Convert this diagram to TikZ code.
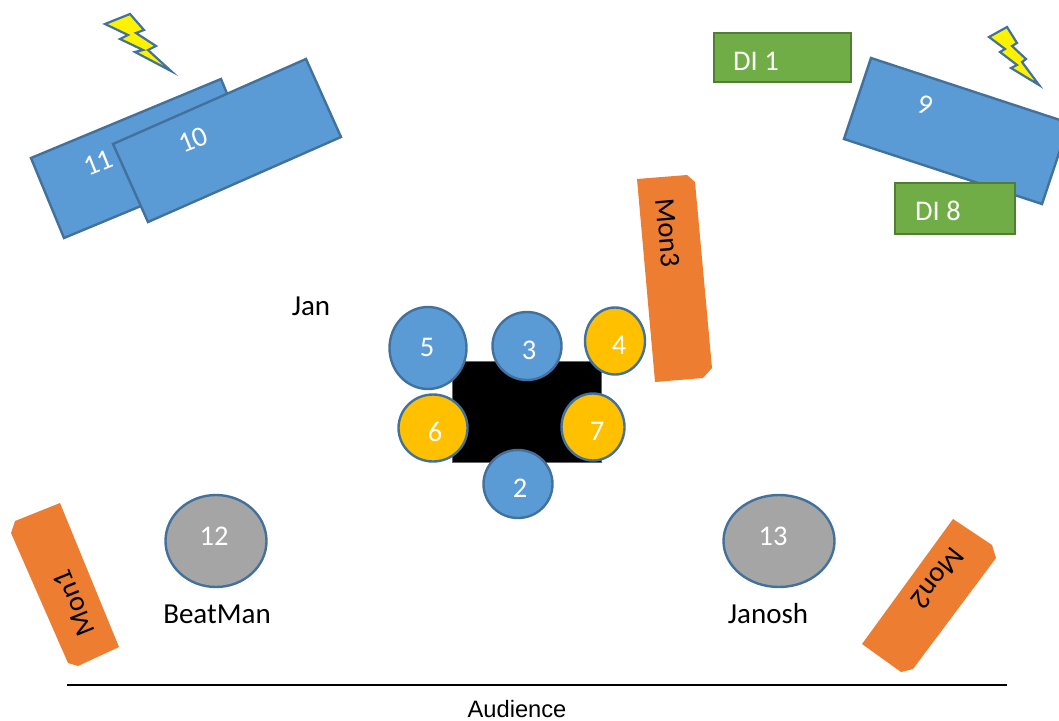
\documentclass[tikz,border=0pt]{standalone}
\usepackage{fontspec}
\setmainfont{Carlito}
\newfontfamily\arialfont{Liberation Sans}
\usetikzlibrary{shapes.geometric}
\definecolor{bluefill}{HTML}{5B9BD5}
\definecolor{blueedge}{HTML}{41719C}
\definecolor{orangefill}{HTML}{ED7D31}
\definecolor{greenfill}{HTML}{70AD47}
\definecolor{greenedge}{HTML}{507E32}
\definecolor{goldfill}{HTML}{FFC000}
\definecolor{grayfill}{HTML}{A5A5A5}
\tikzset{
  amp/.style={draw=blueedge,line width=2.4pt,fill=bluefill,line join=miter},
  mon/.style={fill=orangefill},
  bolt/.style={draw=blueedge,line width=2.2pt,fill=yellow,line join=miter},
  dibox/.style={draw=greenedge,line width=2.4pt,fill=greenfill},
  drum/.style={draw=blueedge,line width=2.4pt,ellipse,inner sep=0pt},
  bluedrum/.style={drum,fill=bluefill},
  golddrum/.style={drum,fill=goldfill},
  graydrum/.style={drum,fill=grayfill},
  wlabel/.style={text=white,font=\fontsize{28.5}{32}\selectfont,inner sep=0pt},
  blabel/.style={text=black,font=\fontsize{29}{32}\selectfont,inner sep=0pt},
  monlabel/.style={text=black,font=\fontsize{28.5}{32}\selectfont,inner sep=0pt},
}
\begin{document}
\begin{tikzpicture}[x=1pt,y=-1pt]
\useasboundingbox (0,0) rectangle (1059,720);
\clip (0,0) rectangle (1059,720);
% amps
\draw[amp] (31,158) -- (221,79) -- (254,159) -- (64,238) -- cycle;
\node[wlabel,rotate=22] (l11) at (98,163) {11};
\draw[amp] (113,144) -- (306,59) -- (341,137) -- (148,222) -- cycle;
\node[wlabel,rotate=22] (l10) at (193,140) {10};
\draw[amp] (871,58) -- (1069,123) -- (1042,204) -- (844,139) -- cycle;
\node[wlabel,rotate=-18] (l9) at (925,105) {9};
% bolts
\draw[bolt] (105,24) -- (130,14) -- (144,30) -- (136,33) -- (156,46) -- (148,50) -- (171,71) -- (135,52) -- (143,50) -- (120,39) -- (128,35) -- cycle;
\draw[bolt] (989,37) -- (1007,27) -- (1017,43) -- (1012,46) -- (1026,59) -- (1022,62) -- (1039,85) -- (1011,68) -- (1017,65) -- (1000,52) -- (1005,49) -- cycle;
% DI boxes
\node[dibox,minimum width=137pt,minimum height=49pt,anchor=north west,inner sep=0pt] (di1) at (713,32) {};
\node[wlabel] (di1t) at (756,61) {DI 1};
\node[dibox,minimum width=120pt,minimum height=51pt,anchor=north west,inner sep=0pt] (di8) at (894,182) {};
\node[wlabel] (di8t) at (938,211) {DI 8};
% monitors
\fill[mon] (637,179) -- (687,175) -- (695,182) -- (712,368) -- (703,378) -- (655,382) -- cycle;
\node[monlabel,rotate=-85] (m3) at (668,233) {Mon3};
\fill[mon] (60,503) -- (119,647) -- (78,666) -- (68,663) -- (11,533) -- (15,521) -- cycle;
\node[monlabel,rotate=112] (m1) at (74,603) {Mon1};
\fill[mon] (953,519) -- (992,545) -- (996,558) -- (913,669) -- (901,672) -- (862,644) -- cycle;
\node[monlabel,rotate=232] (m2) at (938,578) {Mon2};
% kit
\node[fill=black,draw=black!60,line width=.5pt,minimum width=149.5pt,minimum height=101pt,inner sep=0pt,anchor=north west] (kit) at (451.5,360.5) {};
\node[bluedrum,minimum width=77pt,minimum height=82pt] (d5) at (428,348) {};
\node[wlabel] (t5) at (427,347) {5};
\node[bluedrum,minimum width=69pt,minimum height=68pt] (d3) at (527,346) {};
\node[wlabel] (t3) at (529,350) {3};
\node[golddrum,minimum width=60pt,minimum height=67pt] (d4) at (615,341) {};
\node[wlabel] (t4) at (619,345) {4};
\node[golddrum,minimum width=69pt,minimum height=67pt] (d6) at (433,428) {};
\node[wlabel] (t6) at (435,432) {6};
\node[golddrum,minimum width=63pt,minimum height=67pt] (d7) at (593,427) {};
\node[wlabel] (t7) at (597,431) {7};
\node[bluedrum,minimum width=69pt,minimum height=68pt] (d2) at (518,484) {};
\node[wlabel] (t2) at (520,488) {2};
\node[graydrum,minimum width=101pt,minimum height=92pt] (d12) at (216,541) {};
\node[wlabel] (t12) at (214,536) {12};
\node[graydrum,minimum width=111pt,minimum height=92pt] (d13) at (779,541) {};
\node[wlabel] (t13) at (773,536) {13};
% names
\node[blabel] (jan) at (311,306) {Jan};
\node[blabel] (beat) at (217,614) {BeatMan};
\node[blabel] (janosh) at (768,614) {Janosh};
% audience
\coordinate (al) at (67,685);
\coordinate (ar) at (1007,685);
\draw[black,line width=2.8pt] (al) -- (ar);
\node[text=black,font=\arialfont\fontsize{23.7}{26}\selectfont,inner sep=0pt] (aud) at (517,709) {Audience};
\end{tikzpicture}
\end{document}
